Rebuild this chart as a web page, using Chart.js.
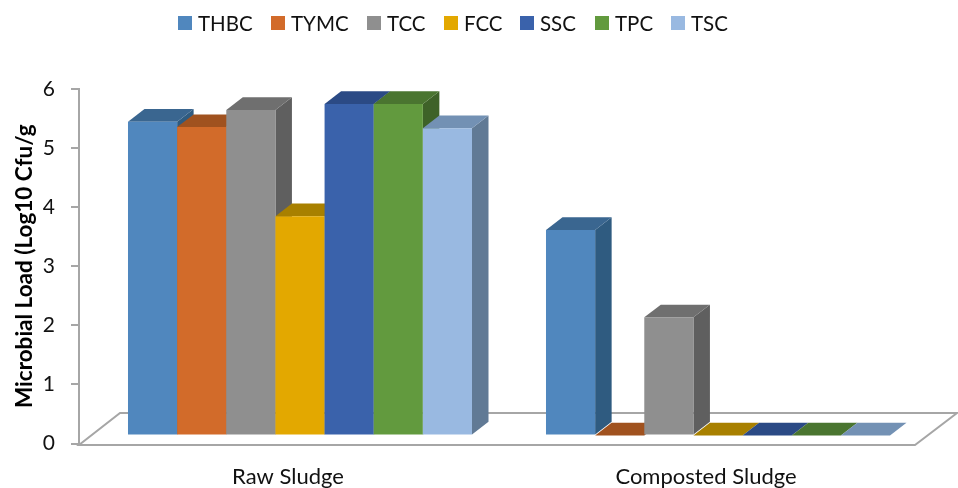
<!DOCTYPE html>
<html>
<head>
<meta charset="utf-8">
<title>Microbial load</title>
<script src="https://cdn.jsdelivr.net/npm/chart.js@4"></script>
<style>
  body { margin: 0; background: #fff; }
  #wrap { position: relative; width: 958px; height: 488px; }
  #legend-div span { position: absolute; }
  #legend-div .box { top: 16px; width: 14px; height: 14px; }
  #legend-div .txt { top: 10px; font: 20.5px Lato, sans-serif; color: #111; line-height: 26px; }
</style>
</head>
<body>
<div id="wrap">
  <div id="legend-div"></div>
  <canvas id="barChartCanvas" width="958" height="488"></canvas>
</div>
<script>
let categories = ['Raw Sludge', 'Composted Sludge'];
let seriesNames = ['THBC', 'TYMC', 'TCC', 'FCC', 'SSC', 'TPC', 'TSC'];

let thbc = [5.31, 3.48];
let tymc = [5.22, 0];
let tcc = [5.51, 2.0];
let fcc = [3.71, 0];
let ssc = [5.61, 0];
let tpc = [5.61, 0];
let tsc = [5.2, 0];
let seriesValues = [thbc, tymc, tcc, fcc, ssc, tpc, tsc];

let frontColors = ['#5087be', '#d26b2a', '#8f8f8f', '#e3a800', '#3a62ab', '#629a3e', '#99b9e1'];
let topColors = ['#3a6690', '#a0521f', '#6f6f6f', '#a88000', '#2b4a85', '#4a7530', '#7391b4'];
let sideColors = ['#2f5b80', '#87451a', '#5f5f5f', '#8c6b00', '#243e70', '#3e6228', '#617a95'];

let legendLefts = [178, 271, 367, 444, 520, 595, 671];

// the bars sit in the middle of the 3d floor, not on the axis line
const barShiftX = 12;
const barShiftY = -8;
const depthX = 16.5;
const depthY = 12.7;
const lineColor = '#a6a6a6';

let polygon = function (ctx, points, color) {
    ctx.fillStyle = color;
    ctx.beginPath();
    points.forEach(function (p, i) {
        if (i === 0) ctx.moveTo(p[0], p[1]);
        else ctx.lineTo(p[0], p[1]);
    });
    ctx.closePath();
    ctx.fill();
};

let drawFloor = function (chart) {
    let ctx = chart.ctx;
    let a = chart.chartArea;
    let bottom = a.bottom + 1.5;
    ctx.save();
    ctx.strokeStyle = lineColor;
    ctx.lineWidth = 2;
    ctx.beginPath();
    ctx.moveTo(a.left, bottom);
    ctx.lineTo(a.right, bottom);
    ctx.lineTo(a.right + 42, bottom - 32);
    ctx.lineTo(a.left + 41, bottom - 32);
    ctx.closePath();
    ctx.stroke();
    ctx.restore();
};

let depthPlugin = {
    id: 'depth',
    // chart.js paints the last dataset first, here the bars have to overlap left to right
    beforeDatasetsDraw: function (chart) {
        let ctx = chart.ctx;
        drawFloor(chart);
        ctx.save();
        ctx.translate(barShiftX, barShiftY);
        chart.getSortedVisibleDatasetMetas().forEach(function (meta) {
            let i = meta.index;
            meta.data.forEach(function (bar) {
                let l = bar.x - bar.width / 2;
                let r = bar.x + bar.width / 2;
                if (bar.base - bar.y > 0.5) {
                    polygon(ctx, [[r, bar.y], [r + depthX, bar.y - depthY], [r + depthX, bar.base - depthY], [r, bar.base]], sideColors[i]);
                }
                polygon(ctx, [[l, bar.y], [r, bar.y], [r + depthX, bar.y - depthY], [l + depthX, bar.y - depthY]], topColors[i]);
            });
            meta.controller.draw();
        });
        ctx.restore();
        return false;
    }
};

let barChartDraw = function () {
    let ctx = document.getElementById('barChartCanvas').getContext('2d');

    window.barChart = new Chart(ctx, {
        type: 'bar',
        data: {
            labels: categories,
            datasets: seriesNames.map(function (name, i) {
                return {
                    label: name,
                    data: seriesValues[i],
                    backgroundColor: frontColors[i],
                    borderWidth: 0,
                    categoryPercentage: 0.823,
                    barPercentage: 1
                };
            })
        },
        plugins: [depthPlugin],
        options: {
            responsive: false,
            animation: false,
            layout: { padding: { top: 89, right: 43, left: 0, bottom: 0 } },
            plugins: {
                legend: { display: false },
                tooltip: { enabled: false }
            },
            scales: {
                x: {
                    afterFit: function (axis) { axis.height = 44.5; },
                    border: { display: false },
                    grid: { display: false },
                    ticks: {
                        color: '#111',
                        padding: 12,
                        maxRotation: 0,
                        font: { family: 'Lato', size: 22 }
                    }
                },
                y: {
                    min: 0,
                    max: 6,
                    afterFit: function (axis) { axis.width = 79; },
                    border: { color: lineColor, width: 2 },
                    grid: { drawOnChartArea: false, color: lineColor, lineWidth: 2, tickLength: 8 },
                    ticks: {
                        stepSize: 1,
                        color: '#111',
                        padding: 16,
                        font: { family: 'Lato', size: 21 }
                    },
                    title: {
                        display: true,
                        text: 'Microbial Load (Log10 Cfu/g',
                        color: '#000',
                        padding: { top: 11, bottom: 0 },
                        font: { family: 'Lato', size: 22.5, weight: 'bold' }
                    }
                }
            }
        }
    });
};

let customLegend = function () {
    let html = '';
    seriesNames.forEach(function (name, i) {
        html += `<span class="box" style="left:${legendLefts[i]}px;background:${frontColors[i]}"></span>`;
        html += `<span class="txt" style="left:${legendLefts[i] + 20}px">${name}</span>`;
    });
    document.getElementById('legend-div').innerHTML = html;
};

customLegend();
barChartDraw();
</script>
</body>
</html>
